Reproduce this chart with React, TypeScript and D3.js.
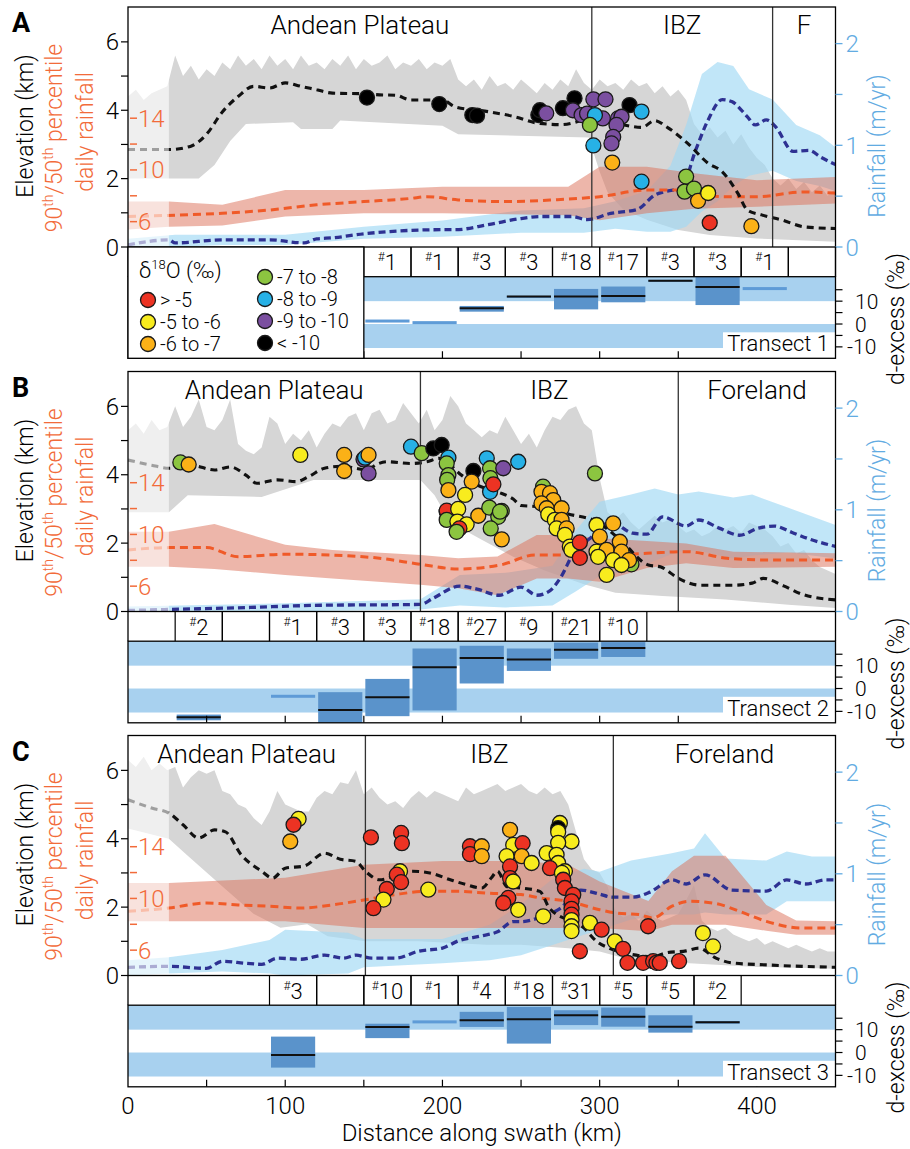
import React from "react";
import * as d3 from "d3";

const FONT = "Roboto, 'Liberation Sans', Arial, Helvetica, sans-serif";
const FW = 300;
const W = 910, H = 1149;
const X0 = 128, X1 = 835.5;
const PANEL_TOPS = [7, 371.5, 735.5];
const MAIN_H = 240, ROW_H = 29.7, DX_H = 81.6;

const ORANGE = "#f26b3a";
const RAINBLUE = "#62abe2";
const CLASS_COLORS = ["#ec3323", "#f8ec1e", "#fbb117", "#8cc540", "#27b1e6", "#7b4fa0", "#000000"];
const CLASS_LABELS = ["> -5", "-5 to -6", "-6 to -7", "-7 to -8", "-8 to -9", "-9 to -10", "< -10"];

const X_TICKS = [0, 100, 200, 300, 400];
const X_MINOR = [50, 100, 150, 200, 250, 300, 350, 400];
const ELEV_TICKS = [0, 1, 2, 3, 4, 5, 6];
const ELEV_LABELS = [0, 2, 4, 6];
const RATIO_TICKS = [6, 8, 10, 12, 14];
const RATIO_LABELS = [6, 10, 14];
const RAIN_TICKS = [0, 0.5, 1, 1.5, 2];
const RAIN_LABELS = [0, 1, 2];
const DX_TICKS = [-10, -5, 0, 5, 10, 15];
const DX_LABELS = [-10, 0, 10];

// ---------- Elevation max envelope (5-km grid) ----------
const KM_GRID = d3.range(0, 451, 5);
const A_MAX = [4.4,4.6,4.3,4.5,4.6,4.7,
  5.6,5.0,5.3,4.9,5.2,5.0,5.4,5.2,5.6,5.3,
  5.5,5.2,5.6,5.3,5.5,5.2,5.6,5.3,5.4,5.2,
  5.5,5.3,5.6,5.2,5.5,5.3,5.4,5.6,5.2,5.4,
  5.3,5.5,5.2,5.4,5.3,5.5,
  4.9,4.7,4.9,4.6,5.0,4.7,4.8,4.6,4.9,4.7,
  4.5,4.8,4.6,4.9,4.7,5.2,4.8,4.6,4.9,4.7,
  4.8,4.6,4.9,4.7,4.8,4.5,4.7,4.4,4.6,4.3,
  3.6,3.3,3.5,3.2,3.4,3.0,3.3,2.9,2.6,2.4,
  2.0,1.8,2.0,1.7,1.9,1.6,1.8,1.5,1.7];
const B_MAX = [5.3,5.5,5.2,5.6,5.3,5.4,
  6.0,5.4,5.7,6.2,5.4,5.3,5.6,6.2,4.9,4.7,
  4.6,4.8,5.7,5.5,4.9,5.2,5.0,5.3,4.8,5.2,
  5.5,5.4,5.7,5.8,5.3,5.8,5.9,5.5,5.6,6.1,
  5.8,5.5,5.9,5.3,5.6,6.3,6.0,5.5,5.3,5.1,
  5.3,5.2,5.7,5.3,4.9,5.2,4.8,5.3,5.7,5.6,
  5.9,6.0,5.5,5.3,3.9,2.9,2.7,2.9,2.6,2.4,
  2.6,2.8,2.6,2.7,2.5,2.3,2.4,2.2,2.3,2.5,
  2.4,2.5,2.3,2.6,2.5,2.4,2.2,1.9,2.0,1.7,
  1.8,1.5,1.3,1.2,1.1];
const C_MAX = [6.3,6.1,6.4,6.0,6.2,6.0,
  6.1,5.5,5.8,6.0,5.9,6.0,5.4,5.3,5.0,4.9,
  4.6,4.4,4.8,5.4,5.0,4.9,4.8,4.8,5.2,5.4,
  5.3,5.65,5.6,6.0,5.3,5.5,5.2,5.0,5.1,4.9,
  5.2,5.4,5.2,5.4,5.3,5.2,5.1,5.5,5.3,5.4,
  5.5,5.6,5.4,5.5,5.6,5.4,5.3,5.5,5.3,5.4,
  5.0,4.2,3.4,3.1,3.0,2.6,1.9,1.7,1.8,1.6,
  1.9,1.7,1.6,1.7,1.8,2.2,2.65,1.6,1.4,1.3,
  1.4,1.2,1.1,1.0,1.1,0.9,1.0,0.9,0.8,0.9,
  0.8,0.7,0.8,0.7,0.7];

// ---------- Elevation min envelope ----------
const A_MIN_KM = [0,45,55,65,75,105,110,130,135,200,210,293,300,305,315,330,350,370,400,450];
const A_MIN = [2.0,2.0,2.4,3.1,3.6,3.65,3.45,3.45,3.7,3.55,3.3,3.2,2.2,1.6,1.1,0.8,0.5,0.35,0.25,0.15];
const B_MIN_KM = [0,26,38,85,118,186,195,205,225,245,265,290,310,340,380,420,450];
const B_MIN = [2.9,2.9,3.4,3.35,3.85,3.85,3.4,2.6,2.1,1.6,1.2,0.8,0.55,0.45,0.35,0.2,0.1];
const C_MIN_KM = [0,26,38,59,80,97,114,127,151,185,207,228,250,280,300,320,360,400,450];
const C_MIN = [4.3,4.0,3.5,2.65,1.8,1.4,1.5,1.15,1.0,1.0,0.95,0.9,0.9,0.8,0.7,0.45,0.35,0.25,0.2];

// ---------- Mean elevation ----------
const A_MEAN_KM = [0,26,40,50,60,70,80,90,100,110,120,130,150,160,170,180,190,200,208,229,246,261,276,289,297,314,327,335,343,356,369,378,388,394,403,416,430,450];
const A_MEAN = [2.85,2.85,2.95,3.3,3.95,4.4,4.7,4.65,4.8,4.7,4.6,4.5,4.48,4.45,4.44,4.3,4.3,4.3,4.1,3.96,3.81,3.62,3.58,3.7,3.76,3.58,3.5,3.7,3.5,3.03,2.45,2.2,1.56,1.08,0.94,0.79,0.59,0.54];
const B_MEAN_KM = [0,15,26,40,55,65,75,82,95,107,115,125,137,145,152,158,165,180,190,198,205,212,222,235,245,250,262,280,298,313,331,339,350,364,385,397,404,417,429,450];
const B_MEAN = [4.43,4.28,4.19,4.28,4.14,4.23,3.99,3.75,3.85,3.8,3.95,4.19,4.25,4.19,4.14,4.3,4.38,4.33,4.38,4.48,4.28,3.99,3.7,3.5,3.29,3.1,3.06,2.85,2.63,2.1,1.36,1.3,0.97,0.77,0.77,0.83,0.97,0.75,0.5,0.34];
const C_MEAN_KM = [0,15,26,35,45,55,62,72,85,92,100,112,125,135,145,151,160,172,180,192,205,215,225,231,235,241,250,262,268,290,298,306,321,334,342,355,363,374,384,406,450];
const C_MEAN = [5.14,4.9,4.75,4.41,4.02,4.26,4.2,3.53,3.05,2.85,3.14,3.2,3.58,3.4,3.34,3.05,2.8,2.95,3.05,3.0,2.8,2.66,2.56,2.85,3.05,2.6,2.56,2.46,1.97,1.39,1.0,0.8,0.61,0.55,0.66,0.72,0.8,0.51,0.37,0.31,0.24];

// ---------- Rainfall (m/yr) ----------
const A_RAIN_KM = [0,26,30,60,90,112,120,130,150,200,208,229,250,263,282,292,307,324,335,343,352,361,369,378,384,394,399,406,412,423,433,441,450];
const A_RAIN = [0.02,0.07,0.04,0.07,0.07,0.04,0.08,0.09,0.13,0.17,0.17,0.22,0.28,0.3,0.3,0.27,0.33,0.37,0.51,0.55,0.58,0.95,1.25,1.45,1.43,1.28,1.2,1.25,1.18,0.94,0.95,0.88,0.81];
const A_RBAND_KM = [0,30,60,100,150,200,250,290,310,330,345,355,365,375,385,395,410,425,440,450];
const A_RUP = [0.08,0.12,0.12,0.12,0.2,0.26,0.36,0.38,0.45,0.55,0.8,1.2,1.7,1.82,1.78,1.55,1.45,1.2,1.1,0.98];
const A_RLO = [0,0,0.02,0.02,0.08,0.1,0.14,0.14,0.18,0.15,0.15,0.2,0.35,0.45,0.6,0.7,0.75,0.65,0.6,0.55];
const B_RAIN_KM = [0,26,78,118,186,194,211,222,236,250,260,268,275,284,294,307,321,330,340,355,363,376,389,401,411,422,432,450];
const B_RAIN = [0.01,0.02,0.04,0.06,0.07,0.13,0.25,0.22,0.16,0.24,0.16,0.2,0.33,0.59,0.72,0.88,0.77,0.76,0.93,0.84,0.9,0.82,0.75,0.82,0.84,0.78,0.72,0.64];
const B_RBAND_KM = [0,100,186,211,240,270,285,300,320,335,350,363,385,397,420,450];
const B_RUP = [0.05,0.08,0.12,0.36,0.38,0.45,0.8,1.08,1.15,1.21,1.15,1.18,1.12,1.15,1.02,0.85];
const B_RLO = [0,0,0.02,0.06,0.04,0.06,0.2,0.35,0.4,0.5,0.59,0.6,0.52,0.55,0.58,0.52];
const C_RAIN_KM = [0,26,50,60,75,85,95,110,125,137,145,155,170,185,200,210,225,235,245,250,262,275,288,300,308,321,332,346,355,367,384,406,419,431,444,450];
const C_RAIN = [0.08,0.09,0.07,0.14,0.12,0.11,0.17,0.16,0.2,0.17,0.2,0.17,0.17,0.24,0.27,0.34,0.39,0.43,0.53,0.53,0.57,0.66,0.84,0.8,0.77,0.77,0.82,0.94,0.9,0.99,0.84,0.83,0.94,0.9,0.94,0.94];
const C_RBAND_KM = [0,26,60,90,100,140,150,200,230,250,270,290,300,320,345,360,367,380,406,419,435,450];
const C_RUP = [0.15,0.18,0.25,0.35,0.45,0.42,0.36,0.36,0.5,0.7,0.95,1.05,1.02,1.13,1.2,1.25,1.4,1.15,1.13,1.22,1.17,1.17];
const C_RLO = [0,0.02,0.04,0.02,0,0.02,0.08,0.12,0.15,0.2,0.3,0.4,0.45,0.55,0.6,0.6,0.62,0.6,0.6,0.73,0.73,0.73];

// ---------- 90th/50th percentile daily rainfall ratio ----------
const A_RAT_KM = [0,30,60,90,120,150,180,190,210,240,270,300,330,350,360,380,400,430,450];
const A_RAT = [6.4,6.5,6.65,6.9,7.3,7.55,7.8,7.93,7.68,7.55,7.68,7.93,8.45,8.45,8.2,7.93,7.93,8.3,8.2];
const A_RATB_KM = [0,26,60,100,150,200,280,300,330,360,400,450];
const A_RAT_UP = [7.55,7.55,7.3,8.45,8.45,8.7,8.7,10.25,10.25,9.75,9.2,9.45];
const A_RAT_LO = [5.4,5.6,5.7,6.4,6.65,6.65,6.5,6.1,6.65,7.0,7.15,7.4];
const B_RAT_KM = [0,26,50,70,100,130,160,186,210,237,259,279,300,330,355,381,405,450];
const B_RAT = [8.8,8.98,8.98,8.28,8.47,8.4,8.16,7.69,7.33,7.64,8.41,8.41,8.41,8.54,8.67,8.16,8.03,8.03];
const B_RATB_KM = [0,26,55,100,130,186,210,235,260,280,300,330,355,385,450];
const B_RAT_UP = [10.2,10.2,10.8,9.2,8.8,8.41,8.16,8.3,9.96,9.96,9.7,9.5,9.3,8.67,8.54];
const B_RAT_LO = [7.5,7.5,7.33,6.87,6.6,6.1,5.84,5.3,6.6,6.6,6.35,7.4,7.77,7.4,7.5];
const C_RAT_KM = [0,26,50,70,90,110,130,151,170,190,210,230,250,262,279,300,310,325,334,346,357,374,389,406,428,450];
const C_RAT = [9.0,9.26,9.65,9.5,9.4,9.26,9.5,9.9,10.3,10.55,10.55,10.4,10.3,10.04,9.8,9.13,8.88,8.75,8.49,9.4,9.78,9.6,9.0,8.23,7.72,7.72];
const C_RATB_KM = [0,26,100,150,200,250,280,300,331,346,360,380,406,425,450];
const C_RAT_UP = [11.2,11.2,11.6,12.6,12.9,12.9,12.6,11.3,9.8,12.1,13.3,13.3,9.5,8.3,8.23];
const C_RAT_LO = [8.23,8.23,8.23,7.72,7.72,7.72,7.72,7.72,7.46,7.97,7.97,7.97,7.5,7.2,7.2];

// ---------- Samples: [km, elevation km, d18O class] ----------
const A_PTS = [
  [152,4.37,6],[198,4.18,6],[219,3.86,6],[222,3.84,6],[261,3.86,6],[262,4.0,6],[276.6,4.06,6],[284,4.35,6],[319,4.15,6],
  [266,3.91,5],[283,4.0,5],[288.5,3.86,5],[292,3.9,5],[296,4.32,5],[303.7,4.32,5],[302,3.76,5],[311.7,3.76,5],[313.9,3.81,5],[310.7,3.57,5],[308.6,3.22,5],[307.5,3.03,5],
  [297,3.86,4],[296,2.97,4],[326.6,3.96,4],[326.6,1.91,4],
  [293.8,3.57,3],[355,2.06,3],[354,1.62,3],[360,1.71,3],
  [308,2.47,2],[362.6,1.35,2],[396.5,0.61,2],
  [369,1.58,1],
  [370,0.71,0],
];
const B_PTS = [
  [33.3,4.36,3],[38.6,4.3,2],[109.6,4.58,1],[137.5,4.58,2],[137.5,4.11,2],[149.8,4.45,5],[150.8,4.5,4],[153,4.58,2],[153,4.04,5],
  [180,4.82,4],[186.8,4.63,3],[194.2,4.77,6],[199.5,4.87,6],[203.8,4.5,4],[202.7,4.33,3],[203.8,3.99,3],[203,3.85,3],[203.8,3.55,2],
  [219.7,4.11,6],[218.6,3.8,2],[228.2,4.48,4],[230.3,4.19,3],[238.7,4.19,5],[248.2,4.38,4],[230.3,3.5,4],[230.5,3.9,3],[232.4,3.72,0],
  [214.4,3.41,1],[202.7,2.92,3],[202.7,2.95,0],[210,3.0,1],[202.7,2.68,3],[209.5,2.63,1],[215.4,2.55,1],[210.8,2.43,0],[209,2.33,3],
  [222.8,2.8,2],[229.8,3.04,3],[237.7,2.94,3],[235.5,2.77,3],[230.7,2.43,3],[237.7,2.11,2],[236.6,2.92,3],
  [297,4.04,3],
  [264,3.65,3],[263,3.5,2],[268.4,3.46,2],[270.5,3.26,2],[263,3.16,2],[266.3,3.02,2],[267.3,2.84,1],[275.8,3.02,2],[271.5,2.68,1],[275.8,2.68,2],[272.6,2.43,1],[279,2.43,2],[277.9,2.24,1],[281,1.9,1],[282,1.8,1],[287.4,2.02,0],[287.4,1.57,0],
  [298,2.53,1],[308.6,2.58,2],[300.1,2.19,2],[312.8,2.04,2],[298,1.75,1],[304.4,1.8,2],[313.9,1.75,2],[299,1.6,1],[308.6,1.5,1],[320.2,1.38,3],[318.7,1.5,2],[313.9,1.36,1],[304.4,1.07,1],
];
const C_PTS = [
  [108.5,4.58,1],[105.3,4.41,0],[103.2,3.92,2],
  [154.5,4.04,0],[173.7,4.17,0],[174.2,3.87,0],[173,3.05,1],[171,2.95,0],[173.7,2.73,0],[164.6,2.53,0],[162.5,2.22,1],[156.1,1.97,0],[191,2.51,1],
  [217.5,3.78,0],[217.5,3.55,0],[225,3.78,2],[225,3.49,2],
  [243,4.26,2],[245,3.82,1],[251,3.87,0],[240.8,3.49,1],[250.4,3.49,2],[256.7,3.29,1],[243,3.19,0],[243,2.85,0],[245,2.75,1],[241.9,2.27,0],[238.7,2.12,0],[248.2,1.92,1],[264.1,1.73,1],
  [274.7,4.46,1],[273.6,4.31,6],[273.6,4.2,1],[282.1,3.92,1],[273.6,3.88,1],[266.3,3.58,1],[272.6,3.53,1],[273.6,3.29,1],[268.4,3.14,0],[277.9,3.05,1],[276,3.0,1],[276.8,2.8,0],[277.9,2.56,0],[283.2,2.36,0],[282.1,2.17,0],[282.1,1.95,0],[282.1,1.78,0],[282.1,1.62,1],[282.1,1.44,1],[282.1,1.3,1],[287.4,0.71,0],
  [293.8,1.54,1],[301.2,1.34,0],[309.6,1.0,1],[314.9,0.78,0],[317.7,0.37,0],[327.6,0.37,0],[334,0.42,0],[336.1,0.37,0],[338.2,0.37,0],[330.8,1.44,0],[350.5,0.42,0],[365.7,1.24,1],[372.1,0.85,1],
];

// ---------- d-excess per 30-km bin ----------
const A_DX_START = [150,180,210,240,270,300,330,360,390,420];
const A_DX_N = [1,1,3,3,18,17,3,3,1,null];
const A_DX_Q1 = [1.3,0.6,5.4,11.4,6.4,9.5,18.5,8.3,15.5,null];
const A_DX_MED = [1.3,0.6,6.9,12.0,12.0,12.3,18.9,16.2,15.5,null];
const A_DX_Q3 = [1.3,0.6,7.9,12.3,15.35,16.4,19.3,21,15.5,null];
const B_DX_START = [30,60,90,120,150,180,210,240,270,300];
const B_DX_N = [2,null,1,3,3,18,27,9,21,10];
const B_DX_Q1 = [-13.9,null,-3.4,-16,-12.1,-9.6,2.2,7.7,13.0,13.8];
const B_DX_MED = [-12.6,null,-3.4,-9.4,-3.8,9.3,13.4,12.7,17.0,17.7];
const B_DX_Q3 = [-11.4,null,-3.4,-1.6,4.2,17.5,18.7,17.5,20.1,20.3];
const C_DX_START = [90,120,150,180,210,240,270,300,330,360];
const C_DX_N = [3,null,10,1,4,18,31,5,5,2];
const C_DX_Q1 = [-6.6,null,6.3,13.4,11.2,3.9,12.0,11.3,8.7,12.6];
const C_DX_MED = [-1.05,null,11.2,13.4,14.1,14.6,16.3,15.7,11.3,13.2];
const C_DX_Q3 = [6.96,null,12.6,13.4,17.8,19.95,18.5,19.7,16.3,13.8];
const DX_BANDS = [[10, 20.7], [-10.5, 0]];

// ---------- Regions ----------
const A_BOUNDS = [295, 410];
const B_BOUNDS = [186, 350];
const C_BOUNDS = [151, 308.7];
const A_REGIONS = ["Andean Plateau", "IBZ", "F"];
const BC_REGIONS = ["Andean Plateau", "IBZ", "Foreland"];
const FADE_KM = 26;

const PANELS = [
  { letter: "A", transect: "Transect 1", max: A_MAX, minKm: A_MIN_KM, min: A_MIN, meanKm: A_MEAN_KM, mean: A_MEAN,
    rainKm: A_RAIN_KM, rain: A_RAIN, rbKm: A_RBAND_KM, rUp: A_RUP, rLo: A_RLO,
    ratKm: A_RAT_KM, rat: A_RAT, ratbKm: A_RATB_KM, ratUp: A_RAT_UP, ratLo: A_RAT_LO,
    pts: A_PTS, dx: { start: A_DX_START, n: A_DX_N, q1: A_DX_Q1, med: A_DX_MED, q3: A_DX_Q3 },
    bounds: A_BOUNDS, regions: A_REGIONS, legend: true },
  { letter: "B", transect: "Transect 2", max: B_MAX, minKm: B_MIN_KM, min: B_MIN, meanKm: B_MEAN_KM, mean: B_MEAN,
    rainKm: B_RAIN_KM, rain: B_RAIN, rbKm: B_RBAND_KM, rUp: B_RUP, rLo: B_RLO,
    ratKm: B_RAT_KM, rat: B_RAT, ratbKm: B_RATB_KM, ratUp: B_RAT_UP, ratLo: B_RAT_LO,
    pts: B_PTS, dx: { start: B_DX_START, n: B_DX_N, q1: B_DX_Q1, med: B_DX_MED, q3: B_DX_Q3 },
    bounds: B_BOUNDS, regions: BC_REGIONS, legend: false },
  { letter: "C", transect: "Transect 3", max: C_MAX, minKm: C_MIN_KM, min: C_MIN, meanKm: C_MEAN_KM, mean: C_MEAN,
    rainKm: C_RAIN_KM, rain: C_RAIN, rbKm: C_RBAND_KM, rUp: C_RUP, rLo: C_RLO,
    ratKm: C_RAT_KM, rat: C_RAT, ratbKm: C_RATB_KM, ratUp: C_RAT_UP, ratLo: C_RAT_LO,
    pts: C_PTS, dx: { start: C_DX_START, n: C_DX_N, q1: C_DX_Q1, med: C_DX_MED, q3: C_DX_Q3 },
    bounds: C_BOUNDS, regions: BC_REGIONS, legend: false, xAxis: true },
];

const x = d3.scaleLinear().domain([0, 450]).range([X0, X1]);

function Sup({ children }: { children: any }) {
  return <tspan fontSize={14} dy={-9}>{children}</tspan>;
}

function Panel({ p, idx }: { p: any; idx: number }) {
  const T = PANEL_TOPS[idx];
  const B = T + MAIN_H;
  const DT = B + ROW_H;
  const DB = DT + DX_H;
  const yE = d3.scaleLinear().domain([0, 7.02]).range([B, T]);
  const yR = d3.scaleLinear().domain([0, 2.36]).range([B, T]);
  const yO = d3.scaleLinear().domain([4.04, 22.6]).range([B, T]);
  const yD = d3.scaleLinear().domain([-15, 20.7]).range([DB, DT]);

  const lin = (ys: any) => d3.line<any>().x((d) => x(d[0])).y((d) => ys(d[1]));
  const smooth = (ys: any) => d3.line<any>().x((d) => x(d[0])).y((d) => ys(d[1])).curve(d3.curveMonotoneX);

  const topPath = lin(yE)(d3.zip(KM_GRID, p.max) as any) as string;
  const botPts = (d3.zip(p.minKm, p.min) as any).slice().reverse();
  const botPath = (lin(yE)(botPts) as string).replace(/^M/, "L");
  const grayPath = topPath + botPath + "Z";

  const band = (km: number[], up: number[], lo: number[], ys: any) =>
    d3.area<number>().x((i) => x(km[i])).y0((i) => ys(lo[i])).y1((i) => ys(up[i]))(km.map((_, i) => i)) as string;

  const clipMain = `clipMain${idx}`;
  const clipDx = `clipDx${idx}`;
  const edges = [0, ...p.bounds, 450];
  const dx = p.dx;

  return (
    <g>
      <defs>
        <clipPath id={clipMain}><rect x={X0} y={T} width={X1 - X0} height={MAIN_H} /></clipPath>
        <clipPath id={clipDx}><rect x={X0} y={DT} width={X1 - X0} height={DX_H} /></clipPath>
      </defs>

      {/* main plot */}
      <g clipPath={`url(#${clipMain})`}>
        <path d={grayPath} fill="#d6d6d6" />
        <path d={band(p.rbKm, p.rUp, p.rLo, yR)} fill="#9fd9f4" opacity={0.65} />
        <path d={band(p.ratbKm, p.ratUp, p.ratLo, yO)} fill="#dc6e55" opacity={0.5} />
        <path d={smooth(yR)(d3.zip(p.rainKm, p.rain) as any) as string} fill="none" stroke="#2e3192" strokeWidth={3.3} strokeDasharray="7 4" />
        <path d={smooth(yO)(d3.zip(p.ratKm, p.rat) as any) as string} fill="none" stroke="#f05a28" strokeWidth={3} strokeDasharray="8 5" />
        <path d={smooth(yE)(d3.zip(p.meanKm, p.mean) as any) as string} fill="none" stroke="#111" strokeWidth={3.1} strokeDasharray="7 5" />
        {p.bounds.map((b: number) => (
          <line key={b} x1={x(b)} x2={x(b)} y1={T} y2={B} stroke="#333" strokeWidth={1.3} />
        ))}
        {p.pts.map((d: number[], i: number) => (
          <circle key={i} cx={x(d[0])} cy={yE(d[1])} r={7.5} fill={CLASS_COLORS[d[2]]} stroke="#1a1a1a" strokeWidth={1.3} />
        ))}
        <rect x={X0} y={T} width={x(FADE_KM) - X0} height={MAIN_H} fill="#fff" opacity={0.6} />
      </g>
      <rect x={X0} y={T} width={X1 - X0} height={MAIN_H} fill="none" stroke="#000" strokeWidth={1.3} />

      {/* region labels */}
      {p.regions.map((r: string, i: number) => (
        <text key={r} x={x((edges[i] + edges[i + 1]) / 2)} y={T + 27} textAnchor="middle" fontSize={26}>{r}</text>
      ))}

      {/* elevation axis */}
      {ELEV_TICKS.map((t) => (
        <line key={t} x1={X0 - 7} x2={X0} y1={yE(t)} y2={yE(t)} stroke="#000" strokeWidth={1.2} />
      ))}
      {ELEV_LABELS.map((t) => (
        <text key={t} x={X0 - 9} y={yE(t) + 8.5} textAnchor="end" fontSize={24}>{t}</text>
      ))}
      {/* ratio axis (inside) */}
      {RATIO_TICKS.map((t) => (
        <line key={t} x1={X0 + 2} x2={X0 + 9} y1={yO(t)} y2={yO(t)} stroke={ORANGE} strokeWidth={1.5} />
      ))}
      {RATIO_LABELS.map((t) => (
        <text key={t} x={X0 + 10} y={yO(t) + 8.5} fontSize={24} fill={ORANGE}>{t}</text>
      ))}
      {/* rainfall axis */}
      {RAIN_TICKS.map((t) => (
        <line key={t} x1={X1} x2={X1 + 7} y1={yR(t)} y2={yR(t)} stroke={RAINBLUE} strokeWidth={1.3} />
      ))}
      {RAIN_LABELS.map((t) => (
        <text key={t} x={X1 + 10} y={yR(t) + 8.5} fontSize={24} fill={RAINBLUE}>{t}</text>
      ))}

      {/* axis titles */}
      <text transform={`translate(33,${T + 119}) rotate(-90)`} textAnchor="middle" fontSize={23}>Elevation (km)</text>
      <text transform={`translate(62,${T + 131}) rotate(-90)`} textAnchor="middle" fontSize={23} fill={ORANGE}>
        90<Sup>th</Sup><tspan dy={9}>/50</tspan><Sup>th</Sup><tspan dy={9}> percentile</tspan>
      </text>
      <text transform={`translate(93,${T + 125}) rotate(-90)`} textAnchor="middle" fontSize={23} fill={ORANGE}>daily rainfall</text>
      <text transform={`translate(885,${T + 139}) rotate(-90)`} textAnchor="middle" fontSize={23} fill={RAINBLUE}>Rainfall (m/yr)</text>
      <text transform={`translate(904,${T + 312}) rotate(-90)`} textAnchor="middle" fontSize={23}>d-excess (‰)</text>

      <text x={12} y={T + 25} fontSize={27} fontWeight="bold">{p.letter}</text>

      {/* count row */}
      {dx.start.map((s: number, i: number) => (
        <g key={s}>
          <line x1={x(s)} x2={x(s)} y1={B} y2={DT} stroke="#000" strokeWidth={1.2} />
          <line x1={x(s + 30)} x2={x(s + 30)} y1={B} y2={DT} stroke="#000" strokeWidth={1.2} />
          {dx.n[i] != null && (
            <text x={x(s + 15)} y={B + 23} textAnchor="middle" fontSize={22}>
              <tspan fontSize={12} dy={-9}>#</tspan><tspan dy={9}>{dx.n[i]}</tspan>
            </text>
          )}
        </g>
      ))}
      <line x1={X0} x2={X0} y1={B} y2={DT} stroke="#000" strokeWidth={1.3} />
      <line x1={X1} x2={X1} y1={B} y2={DT} stroke="#000" strokeWidth={1.3} />

      {/* d-excess */}
      <g clipPath={`url(#${clipDx})`}>
        {DX_BANDS.map((b, i) => (
          <rect key={i} x={X0} y={yD(b[1])} width={X1 - X0} height={yD(b[0]) - yD(b[1])} fill="#a8d1ef" />
        ))}
        {dx.start.map((s: number, i: number) => {
          const n = dx.n[i];
          if (n == null) return null;
          const bx0 = x(s) + 1.5, bx1 = x(s + 30) - 1.5;
          if (n === 1) {
            return <rect key={s} x={bx0} y={yD(dx.med[i]) - 1.5} width={bx1 - bx0} height={3} fill="#5e9bd7" />;
          }
          return (
            <g key={s}>
              <rect x={bx0} y={yD(dx.q3[i])} width={bx1 - bx0} height={Math.max(2, yD(dx.q1[i]) - yD(dx.q3[i]))} fill="#5a93cb" />
              <line x1={bx0} x2={bx1} y1={yD(dx.med[i])} y2={yD(dx.med[i])} stroke="#111" strokeWidth={2} />
            </g>
          );
        })}
        {X_MINOR.map((k) => (
          <line key={k} x1={x(k)} x2={x(k)} y1={DB} y2={DB - 7} stroke="#000" strokeWidth={1.2} />
        ))}
        <rect x={723} y={DB - 26} width={X1 - 723} height={26} fill="#fff" />
        <text x={829} y={DB - 7} textAnchor="end" fontSize={22}>{p.transect}</text>
      </g>
      <rect x={X0} y={DT} width={X1 - X0} height={DX_H} fill="none" stroke="#000" strokeWidth={1.3} />
      {DX_TICKS.map((t) => (
        <line key={t} x1={X1} x2={X1 + 7} y1={yD(t)} y2={yD(t)} stroke="#000" strokeWidth={1.2} />
      ))}
      {DX_LABELS.map((t) => (
        <text key={t} x={t < 0 ? 847 : 855} y={yD(t) + 7.5} fontSize={21}>{t}</text>
      ))}

      {/* legend */}
      {p.legend && (
        <g>
          <rect x={X0} y={B} width={x(150) - X0} height={DB - B} fill="#fff" stroke="#000" strokeWidth={1.3} />
          <text x={139} y={B + 31} fontSize={22}>δ<tspan fontSize={13} dy={-9}>18</tspan><tspan dy={9}>O (‰)</tspan></text>
          {[0, 1, 2].map((c, i) => (
            <g key={c}>
              <circle cx={148} cy={B + 53 + i * 22} r={7.5} fill={CLASS_COLORS[c]} stroke="#1a1a1a" strokeWidth={1.3} />
              <text x={160} y={B + 60 + i * 22} fontSize={20}>{CLASS_LABELS[c]}</text>
            </g>
          ))}
          {[3, 4, 5, 6].map((c, i) => (
            <g key={c}>
              <circle cx={265} cy={B + 30 + i * 22} r={7.5} fill={CLASS_COLORS[c]} stroke="#1a1a1a" strokeWidth={1.3} />
              <text x={277} y={B + 37 + i * 22} fontSize={20}>{CLASS_LABELS[c]}</text>
            </g>
          ))}
        </g>
      )}

      {/* x axis */}
      {p.xAxis && (
        <g>
          {X_TICKS.map((t) => (
            <text key={t} x={x(t)} y={DB + 27} textAnchor="middle" fontSize={24}>{t}</text>
          ))}
          <text x={x(225)} y={DB + 54} textAnchor="middle" fontSize={24}>Distance along swath (km)</text>
        </g>
      )}
    </g>
  );
}

export default function App() {
  return (
    <svg width={W} height={H} viewBox={`0 0 ${W} ${H}`} style={{ display: "block", position: "absolute", left: 0, top: 0, background: "#fff" }} fontFamily={FONT} fontWeight={FW}>
      <rect width={W} height={H} fill="#fff" />
      {PANELS.map((p, i) => (
        <Panel key={p.letter} p={p} idx={i} />
      ))}
    </svg>
  );
}
